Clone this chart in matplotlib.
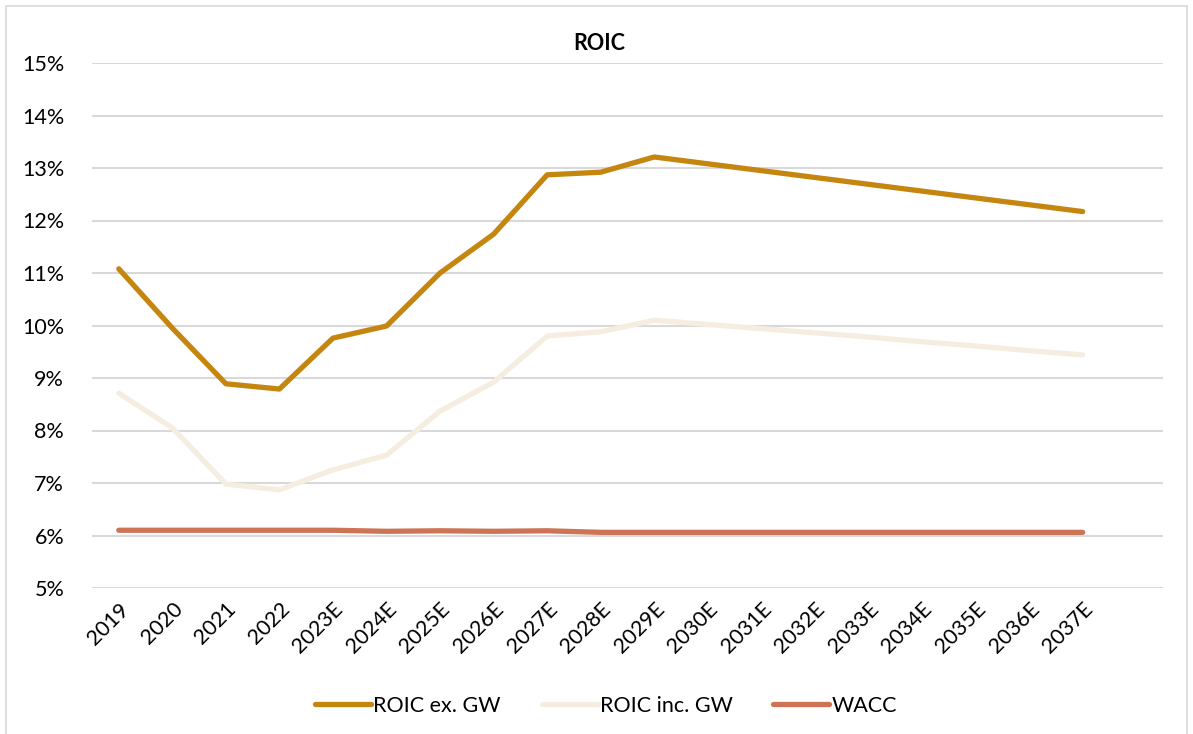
import matplotlib.pyplot as plt
from matplotlib.patches import Rectangle
from matplotlib.ticker import FuncFormatter, MultipleLocator

years = ['2019', '2020', '2021', '2022', '2023E', '2024E', '2025E', '2026E',
         '2027E', '2028E', '2029E', '2030E', '2031E', '2032E', '2033E',
         '2034E', '2035E', '2036E', '2037E']

roic_ex_gw = [11.08, 9.95, 8.89, 8.79, 9.76, 9.99, 11.00, 11.74, 12.87,
              12.92, 13.21, 13.08, 12.95, 12.82, 12.69, 12.56, 12.43, 12.30, 12.17]
roic_inc_gw = [8.71, 8.05, 6.98, 6.87, 7.25, 7.53, 8.37, 8.92, 9.80,
               9.88, 10.10, 10.02, 9.94, 9.86, 9.78, 9.69, 9.61, 9.52, 9.44]
wacc = [6.10, 6.10, 6.10, 6.10, 6.10, 6.08, 6.09, 6.08, 6.09,
        6.06, 6.06, 6.06, 6.06, 6.06, 6.06, 6.06, 6.06, 6.06, 6.06]

plt.rcParams['font.family'] = ['Lato', 'DejaVu Sans']

fig = plt.figure(figsize=(11.93, 7.34), dpi=100)
ax = fig.add_axes([92 / 1193, 1 - 588 / 734, (1163 - 92) / 1193, (588 - 63) / 734])

x = range(len(years))
ax.plot(x, roic_ex_gw, color='#C4860F', lw=3.8, solid_capstyle='round',
        solid_joinstyle='round', label='ROIC ex. GW', zorder=3)
ax.plot(x, roic_inc_gw, color='#F5EDE0', lw=3.8, solid_capstyle='round',
        solid_joinstyle='round', label='ROIC inc. GW', zorder=3)
ax.plot(x, wacc, color='#CD7456', lw=3.8, solid_capstyle='round',
        solid_joinstyle='round', label='WACC', zorder=3)

# one empty slot after the last year, like the original category axis
ax.set_xlim(-0.5, len(years) + 0.5)
ax.set_ylim(5, 15)
ax.yaxis.set_major_locator(MultipleLocator(1))
ax.yaxis.set_major_formatter(FuncFormatter(lambda v, p: f'{v:.0f}%'))
ax.set_xticks(list(x))
ax.set_xticklabels(years, rotation=45, ha='right', va='top',
                   rotation_mode='anchor')
ax.tick_params(axis='both', length=0, labelsize=15.5, colors='#000000')
ax.tick_params(axis='x', pad=8)
ax.tick_params(axis='y', pad=20)
ax.grid(axis='y', color='#D9D9D9', lw=1.5)
ax.set_axisbelow(True)
for s in ax.spines.values():
    s.set_visible(False)

fig.text(599 / 1193, 1 - 44 / 734, 'ROIC', ha='center', va='center',
         fontsize=15.5, fontweight='bold')

ax.legend(loc='center', bbox_to_anchor=(0.48, (588 - 706) / 525), ncol=3,
          frameon=False, fontsize=15.5, handlelength=2.6, handletextpad=0.1,
          columnspacing=1.9, bbox_transform=ax.transAxes)

fig.patches.append(Rectangle((6 / 1193, -0.01), (1187 - 6) / 1193, 1 - 6 / 734 + 0.01,
                             transform=fig.transFigure, fill=False,
                             edgecolor='#D9D9D9', lw=1.2))

fig.savefig('out.png', dpi=100)
